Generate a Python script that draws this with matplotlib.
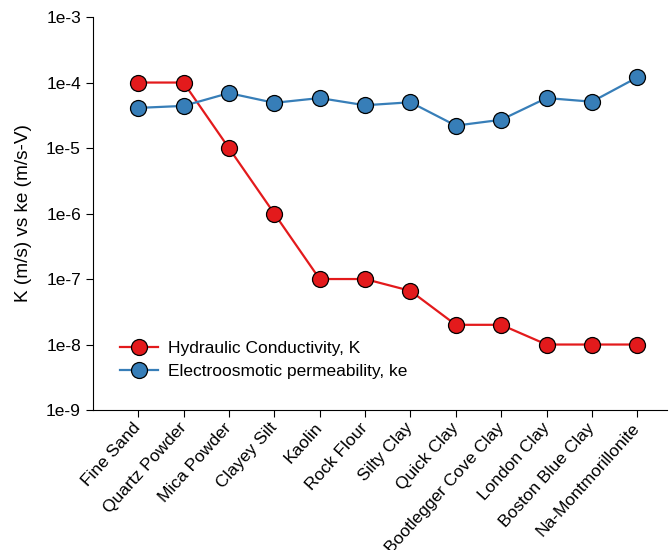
import matplotlib
matplotlib.use("Agg")
import matplotlib.pyplot as plt
from matplotlib.ticker import FixedLocator, NullLocator

plt.rcParams['font.family'] = ['Liberation Sans', 'DejaVu Sans']

categories = ["Fine Sand", "Quartz Powder", "Mica Powder", "Clayey Silt", "Kaolin",
              "Rock Flour", "Silty Clay", "Quick Clay", "Bootlegger Cove Clay",
              "London Clay", "Boston Blue Clay", "Na-Montmorillonite"]
hydraulic_K = [1e-4, 1e-4, 1e-5, 1e-6, 1e-7, 1e-7, 6.6e-8, 2e-8, 2e-8, 1e-8, 1e-8, 1e-8]
electro_ke = [4.1e-5, 4.4e-5, 6.9e-5, 4.9e-5, 5.8e-5, 4.5e-5, 5.0e-5, 2.2e-5, 2.7e-5,
              5.8e-5, 5.1e-5, 1.2e-4]
ytick_vals = [1e-9, 1e-8, 1e-7, 1e-6, 1e-5, 1e-4, 1e-3]
ytick_labels = ["1e-9", "1e-8", "1e-7", "1e-6", "1e-5", "1e-4", "1e-3"]

fig = plt.figure(figsize=(6.72, 5.5), dpi=100)
ax = fig.add_axes([0.138, 0.2545, 0.855, 0.7145])

x = list(range(len(categories)))
ax.plot(x, hydraulic_K, color='#e31a1c', lw=1.6, marker='o', ms=11.5,
        markerfacecolor='#e31a1c', markeredgecolor='black', markeredgewidth=0.9,
        label='Hydraulic Conductivity, K', zorder=3)
ax.plot(x, electro_ke, color='#377eb8', lw=1.6, marker='o', ms=11.5,
        markerfacecolor='#377eb8', markeredgecolor='black', markeredgewidth=0.9,
        label='Electroosmotic permeability, ke', zorder=3)

ax.set_yscale('log')
ax.set_ylim(1e-9, 1e-3)
ax.yaxis.set_major_locator(FixedLocator(ytick_vals))
ax.set_yticklabels(ytick_labels)
ax.yaxis.set_minor_locator(NullLocator())
ax.set_xlim(-1, 11.66)
ax.set_xticks(x)
ax.set_xticklabels(categories, rotation=48, ha='right', va='center', rotation_mode='anchor')
ax.tick_params(axis='both', labelsize=12.5, direction='out', length=5, width=0.8)
ax.tick_params(axis='x', pad=6)
ax.set_ylabel('K (m/s) vs ke (m/s-V)', fontsize=13.7, labelpad=10)
for s in ['top', 'right']:
    ax.spines[s].set_visible(False)
for s in ['left', 'bottom']:
    ax.spines[s].set_linewidth(0.8)

ax.legend(loc='lower left', bbox_to_anchor=(0.02, 0.04), frameon=False, fontsize=12.5,
          handlelength=2.2, handletextpad=0.6, labelspacing=0.45)

fig.savefig('out.png', dpi=100)
